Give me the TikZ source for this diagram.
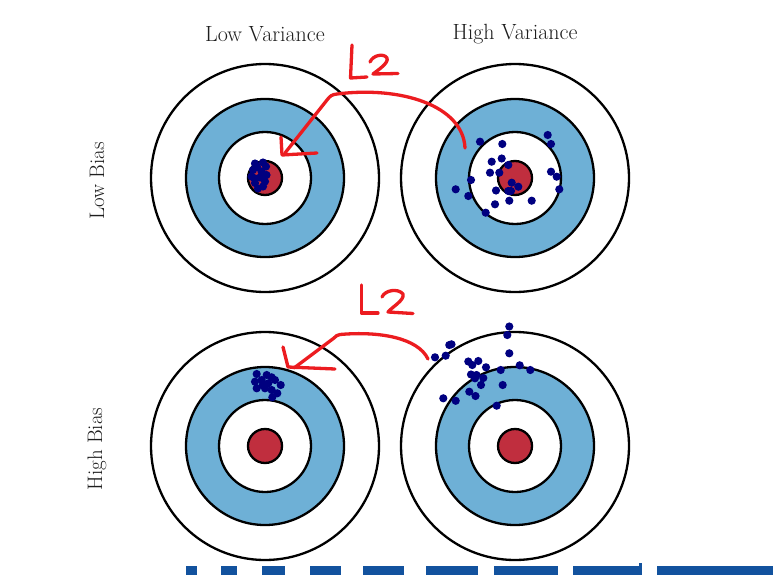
\documentclass[tikz,border=0pt]{standalone}
\definecolor{ringblue}{RGB}{110,176,214}
\definecolor{bullred}{RGB}{192,46,62}
\definecolor{dotnavy}{RGB}{0,0,128}
\definecolor{handred}{RGB}{236,28,32}
\definecolor{stripblue}{RGB}{18,82,158}
\definecolor{textgray}{RGB}{30,30,30}
\tikzset{
  ring/.style={circle, draw=black, line width=2.3pt, inner sep=0pt, minimum size=#1},
  outerring/.style={ring=228pt, fill=white},
  bluering/.style={ring=158pt, fill=ringblue},
  innerring/.style={ring=92pt, fill=white},
  bullseye/.style={ring=34pt, fill=bullred},
  lab/.style={text=textgray, font=\fontsize{22}{26}\selectfont, inner sep=0pt},
  sidelab/.style={lab, font=\fontsize{21}{25}\selectfont, rotate=90},
  hand/.style={draw=handred, line width=3.3pt, line cap=round, line join=round},
  dot/.style={fill=dotnavy},
  stripbox/.style={fill=stripblue}
}
\newcommand\mytarget[3]{%
  \node[outerring] (#1-o) at (#2,#3) {};
  \node[bluering]  (#1-b) at (#2,#3) {};
  \node[innerring] (#1-i) at (#2,#3) {};
  \node[bullseye]  (#1-c) at (#2,#3) {};
}
\begin{document}
\begin{tikzpicture}[x=1pt,y=-1pt]
\useasboundingbox[fill=white] (0,0) rectangle (773,575);

% labels
\node[lab] (lv) at (265,34) {Low Variance};
\node[lab] (hv) at (515,34) {High Variance};
\node[sidelab] (lb) at (97,181) {Low Bias};
\node[sidelab] (hb) at (97,449) {High Bias};

% targets
\mytarget{tl}{265}{178}
\mytarget{tr}{515}{178}
\mytarget{bl}{265}{446}
\mytarget{br}{515}{446}

% dots: low bias, low variance
\foreach \p in {(255,163.5),(263,162.5),(266,166.5),(253,170),(261.5,171.5),(251.5,176.5),
  (260,177.5),(266.5,175),(255,183),(263,186.5),(258,188.5),(265,181.5),(257,167),(254,178)}
  \fill[dot] \p circle (4.1pt);

% dots: low bias, high variance
\foreach \p in {(480,141.7),(502.3,144),(547.7,135),(551,144),(491.7,161.7),(501.7,158.5),
  (508.3,165),(490,172.7),(499.3,172.7),(471,180),(551,171.7),(556.7,176.7),(455.7,189.3),
  (468.3,196),(496,190.5),(511.7,182.7),(518.3,186.7),(508.3,191),(511,191),(559.3,189.3),
  (495,204.3),(509.3,200.7),(531.7,200.7),(485.7,212.7)}
  \fill[dot] \p circle (4.1pt);

% dots: high bias, low variance
\foreach \p in {(256.7,374),(266.7,375),(271.7,377.3),(255,381.7),(261.7,380),(268.3,383.3),
  (275,380),(280.7,385),(256.7,388.3),(265,388.3),(271.7,390),(277.3,393.3),(272.3,397.3),
  (262.7,385)}
  \fill[dot] \p circle (4.1pt);

% dots: high bias, high variance
\foreach \p in {(509.3,326.5),(507.3,335),(449.3,345),(451.5,344.3),(435,357.3),(445.7,355.7),
  (509.3,353.3),(468.3,361.5),(478.3,361),(472.3,365),(486,367.3),(500.7,370),(519.7,365.3),
  (530.3,370),(471,374.5),(476.5,375),(483.3,378),(475,378.3),(481,385),(502.7,385),
  (469.3,391.7),(475.5,396),(443.3,398.3),(455.7,400.8),(496.7,405.7)}
  \fill[dot] \p circle (4.1pt);

% handwritten L2 (top)
\draw[hand] (352,45) -- (350.5,78) -- (367,77);
\draw[hand] (370,62) .. controls (373,55) and (384,53) .. (387,58)
  .. controls (389,63) and (378,70) .. (373,74) -- (398,73.5);
% top arrow
\coordinate (ta-start) at (465,148);
\coordinate (ta-tip) at (285,153);
\draw[hand] (ta-start) .. controls (463,105) and (400,86) .. (337,94)
  .. controls (332,94.5) and (330,96) .. (327,100) -- (ta-tip);
\draw[hand] (281,137) -- (282,155) -- (317,153);

% handwritten L2 (bottom)
\draw[hand] (361.5,285) -- (361.5,313) -- (378,313);
\draw[hand] (382,297) .. controls (385,290) and (398,288) .. (403,294)
  .. controls (405,300) and (392,307) .. (388,312) -- (413,313.5);
% bottom arrow
\coordinate (ba-start) at (428,359);
\coordinate (ba-tip) at (294,368);
\draw[hand] (ba-start) .. controls (418,338) and (380,331) .. (340,334.5)
  .. controls (337,335) and (336,336) .. (334,338) -- (ba-tip);
\draw[hand] (283,347) -- (288,367) -- (335,369);

% bottom strip
\foreach \a/\b in {186/196.7,221/237.3,262.3/285,310/341,363.3/404,426/477.7,494.3/558.3,572.7/641.7,656.7/773}
  \fill[stripbox] (\a,566) rectangle (\b,575);
\fill[stripbox] (639,563) rectangle (641.7,566);
\end{tikzpicture}
\end{document}
